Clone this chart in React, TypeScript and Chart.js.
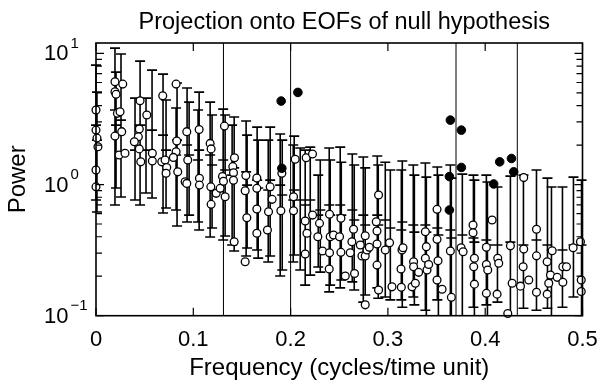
import { useEffect, useRef } from "react";
import { Chart, registerables } from "chart.js";

Chart.register(...registerables);

const FONT = '"Liberation Sans", Arial, Helvetica, sans-serif';

// Open circles: projected power at each frequency
const nullFreq = [
  0, 0, 0.001, 0.002, 0, 0, 0.0195, 0.0195, 0.0206, 0.022, 0.0247, 0.0264, 0.0195, 0.0275, 0.0237, 0.0298,
  0.0453, 0.0522, 0.0445, 0.0435, 0.0394, 0.0445, 0.046, 0.0579, 0.0579, 0.0686, 0.0676, 0.071, 0.0727, 0.072,
  0.0823, 0.083, 0.0823, 0.0795, 0.084, 0.0933, 0.0943, 0.106, 0.1063, 0.1173, 0.1183, 0.132, 0.13, 0.1423,
  0.1406, 0.1413, 0.154, 0.1653, 0.0916, 0.0933, 0.1063, 0.118, 0.1183, 0.1235, 0.1276, 0.131, 0.1327, 0.1413,
  0.142, 0.1533, 0.155, 0.1533, 0.1653, 0.1653, 0.1653, 0.179, 0.181, 0.1773, 0.1762, 0.191, 0.19, 0.203,
  0.203, 0.215, 0.2168, 0.215, 0.2226, 0.228, 0.2297, 0.2328, 0.24, 0.2407, 0.24, 0.2397, 0.2441, 0.2503,
  0.2517, 0.2517, 0.2562, 0.2613, 0.2647, 0.263, 0.2657, 0.2716, 0.2733, 0.2767, 0.2767, 0.2785, 0.2809, 0.2767,
  0.288, 0.2888, 0.2904, 0.2888, 0.2888, 0.2904, 0.2973, 0.3017, 0.3042, 0.3145, 0.3155, 0.3135, 0.3138, 0.3248,
  0.3264, 0.3264, 0.3282, 0.3316, 0.3385, 0.3395, 0.3385, 0.3402, 0.3419, 0.3505, 0.3505, 0.3515, 0.3505, 0.3557,
  0.3642, 0.3652, 0.3752, 0.3773, 0.3875, 0.3875, 0.3889, 0.3882, 0.3889, 0.4012, 0.4012, 0.4026, 0.4012, 0.4071,
  0.4129, 0.4139, 0.4122, 0.4232, 0.4259, 0.4277, 0.4396, 0.4396, 0.4362, 0.439, 0.4448, 0.4527, 0.4527, 0.4527,
  0.4637, 0.4637, 0.4653, 0.4688, 0.4671, 0.474, 0.4798, 0.4798, 0.4835, 0.4904, 0.4979, 0.4987, 0.4987, 0.2047,
  0.216, 0.2225,
];
const nullPower = [
  3.7, 2.6, 2.26, 1.94, 1.29, 0.96, 6.07, 5.1, 4.87, 3.49, 3.59, 2.53, 2.34, 5.83, 1.68, 1.73,
  4.35, 3.39, 2.65, 2.31, 2.12, 1.87, 1.49, 1.73, 1.51, 4.75, 1.49, 1.54, 1.35, 1.22,
  5.83, 2.15, 1.78, 1.61, 1.25, 2.53, 1.54, 2.63, 1.115, 2.06, 1.87, 2.79, 1.15, 1.6,
  1.37, 1.23, 1.17, 1.12, 1.05, 1.02, 0.99, 0.96, 0.706, 0.857, 0.935, 1.06, 0.807, 1.08,
  0.366, 0.897, 0.558, 0.258, 0.935, 0.651, 0.425, 0.96, 0.771, 0.62, 0.45, 1.22, 0.631, 0.807,
  0.631, 0.527, 0.425, 0.295, 0.585, 0.4, 0.506, 0.311, 0.593, 0.4, 0.302, 0.227, 0.412, 0.4,
  0.553, 0.304, 0.201, 0.302, 0.456, 0.366, 0.21, 0.346, 0.285, 0.285, 0.407, 0.317, 0.332, 0.121,
  0.521, 0.442, 0.832, 0.352, 0.243, 0.157, 0.317, 0.36, 0.166, 0.317, 0.33, 0.227, 0.165, 0.166,
  0.258, 0.236, 0.177, 0.214, 0.437, 0.336, 0.274, 0.223, 0.246, 0.647, 0.382, 0.262, 0.187, 0.159,
  0.311, 0.138, 0.33, 0.307, 0.491, 0.429, 0.274, 0.236, 0.174, 0.332, 0.246, 0.223, 0.148, 0.536,
  0.274, 0.251, 0.146, 0.104, 0.341, 0.177, 1.13, 0.322, 0.168, 0.236, 0.187, 0.456, 0.286, 0.151,
  0.258, 0.146, 0.177, 0.313, 0.204, 0.196, 0.236, 0.18, 0.236, 0.33, 0.366, 0.187, 0.153, 1.56,
  1.6, 1.71,
];

// Filled dots: significant values
const sigFreq = [0.1903, 0.2075, 0.191, 0.3642, 0.3755, 0.3755, 0.3632, 0.3632, 0.4149, 0.427, 0.4293, 0.4087];
const sigPower = [4.33, 5.04, 1.33, 3.1, 2.6, 1.35, 1.15, 0.639, 1.49, 1.58, 1.25, 1.01];

// Null-hypothesis intervals: upper, median and lower bounds
const barFreq = [
  0, 0.001, 0.0195, 0.0206, 0.0257, 0.0453, 0.0401, 0.0514, 0.0576, 0.0689, 0.072, 0.0833, 0.0823, 0.0936,
  0.0957, 0.106, 0.1049, 0.1173, 0.1193, 0.1307, 0.1327, 0.142, 0.1399, 0.1543, 0.1553, 0.1656, 0.1667, 0.179,
  0.177, 0.1893, 0.1914, 0.2037, 0.2027, 0.2099, 0.215, 0.2202, 0.2284, 0.2305, 0.2397, 0.2407, 0.251, 0.2521,
  0.2634, 0.2654, 0.2747, 0.2767, 0.2891, 0.2901, 0.2973, 0.3025, 0.3148, 0.3138, 0.3261, 0.3272, 0.3385, 0.3395,
  0.3508, 0.3519, 0.3642, 0.3652, 0.3765, 0.3879, 0.3889, 0.4012, 0.4023, 0.4126, 0.4259, 0.4393, 0.4527, 0.464,
  0.4681, 0.4794, 0.4907, 0.499,
];
const barHigh = [
  8.14, 5.07, 10.97, 7.2, 9.88, 8.73, 4.56, 4.56, 7.46, 6.95, 4.41, 5.94, 3.83, 5.44,
  4.25, 5.07, 3.7, 4.25, 3.39, 3.76, 3.39, 3.27, 2.84, 3.05, 2.38, 2.74, 2.18, 2.74,
  2.18, 2.43, 2.18, 2.34, 2.0, 1.9, 1.83, 1.93, 1.18, 1.54, 1.9, 1.54, 1.93, 1.48,
  1.71, 1.41, 1.62, 1.34, 1.65, 1.41, 1.48, 1.29, 1.51, 1.29, 1.41, 1.18, 1.46, 1.14,
  1.36, 1.18, 1.41, 1.12, 1.2, 1.18, 1.08, 1.18, 1.045, 0.957, 1.16, 1.18, 1.29, 1.12,
  0.957, 0.957, 1.14, 1.08,
];
const barMid = [
  2.84, 2.18, 3.7, 2.84, 3.1, 2.84, 1.83, 1.83, 2.6, 2.38, 1.83, 2.18, 1.68, 2.0,
  1.68, 1.83, 1.54, 1.68, 1.41, 1.54, 1.29, 1.34, 1.18, 1.25, 0.99, 1.08, 0.94, 1.08,
  0.908, 0.99, 0.832, 0.908, 0.762, 0.762, 0.698, 0.762, 0.585, 0.639, 0.698, 0.585, 0.698, 0.585,
  0.639, 0.536, 0.585, 0.491, 0.585, 0.491, 0.536, 0.466, 0.518, 0.45, 0.491, 0.434, 0.491, 0.434,
  0.466, 0.412, 0.45, 0.391, 0.412, 0.391, 0.364, 0.378, 0.346, 0.346, 0.364, 0.346, 0.378, 0.346,
  0.317, 0.317, 0.346, 0.346,
];
const barLow = [
  0.762, 0.617, 0.698, 0.94, 0.803, 0.698, 0.762, 0.861, 0.789, 0.606, 0.662, 0.483, 0.639, 0.518,
  0.585, 0.45, 0.518, 0.398, 0.466, 0.378, 0.405, 0.311, 0.346, 0.285, 0.328, 0.317, 0.275, 0.285,
  0.257, 0.201, 0.223, 0.29, 0.257, 0.223, 0.171, 0.204, 0.235, 0.215, 0.152, 0.171, 0.163, 0.187,
  0.181, 0.157, 0.127, 0.144, 0.163, 0.136, 0.139, 0.132, 0.116, 0.132, 0.139, 0.121, 0.11, 0.09,
  0.132, 0.09, 0.09, 0.09, 0.09, 0.116, 0.09, 0.121, 0.09, 0.127, 0.09, 0.114, 0.11, 0.114,
  0.09, 0.116, 0.139, 0.09,
];

// Vertical marker lines
const markerFreq = [0.131, 0.2, 0.37, 0.433];

// Axes
const xMin = 0;
const xMax = 0.5;
const yMin = 0.1;
const yMax = 12;
const xTickValues = [0, 0.1, 0.2, 0.3, 0.4, 0.5];
const xTickLabels = ["0", "0.1", "0.2", "0.3", "0.4", "0.5"];
const yTickValues = [10, 1, 0.1];
const yTickExponents = ["1", "0", "\u22121"];
const yMinorTicks = [0.2, 0.3, 0.4, 0.5, 0.6, 0.7, 0.8, 0.9, 2, 3, 4, 5, 6, 7, 8, 9];

const titleText = "Projection onto EOFs of null hypothesis";
const xTitle = "Frequency (cycles/time unit)";
const yTitle = "Power";

const matlabPlugin = {
  id: "matlabAxes",
  beforeDatasetsDraw(chart: any) {
    const { ctx, chartArea: a, scales } = chart;
    const x = scales.x;
    const y = scales.y;
    ctx.save();
    ctx.strokeStyle = "#000";
    ctx.lineWidth = 1;
    for (const f of markerFreq) {
      const px = x.getPixelForValue(f);
      ctx.beginPath();
      ctx.moveTo(px, a.top);
      ctx.lineTo(px, a.bottom);
      ctx.stroke();
    }
    ctx.beginPath();
    ctx.rect(a.left - 8, a.top, a.right - a.left + 16, a.bottom - a.top);
    ctx.clip();
    ctx.lineWidth = 1.6;
    const hw = 5;
    ctx.beginPath();
    for (let i = 0; i < barFreq.length; i++) {
      const px = x.getPixelForValue(barFreq[i]);
      const yh = y.getPixelForValue(barHigh[i]);
      const ym = y.getPixelForValue(barMid[i]);
      const yl = y.getPixelForValue(barLow[i]);
      ctx.moveTo(px, yh);
      ctx.lineTo(px, yl);
      ctx.moveTo(px - hw, yh);
      ctx.lineTo(px + hw, yh);
      ctx.moveTo(px - hw, ym);
      ctx.lineTo(px + hw, ym);
      ctx.moveTo(px - hw, yl);
      ctx.lineTo(px + hw, yl);
    }
    ctx.stroke();
    ctx.restore();
  },
  afterDraw(chart: any) {
    const { ctx, chartArea: a, scales } = chart;
    const x = scales.x;
    const y = scales.y;
    ctx.save();
    ctx.strokeStyle = "#000";
    ctx.fillStyle = "#000";
    ctx.lineWidth = 1.6;
    ctx.strokeRect(a.left, a.top, a.right - a.left, a.bottom - a.top);
    ctx.lineWidth = 1.2;
    ctx.beginPath();
    for (const v of xTickValues) {
      const px = x.getPixelForValue(v);
      ctx.moveTo(px, a.bottom);
      ctx.lineTo(px, a.bottom - 8);
      ctx.moveTo(px, a.top);
      ctx.lineTo(px, a.top + 8);
    }
    for (const v of yTickValues) {
      const py = y.getPixelForValue(v);
      ctx.moveTo(a.left, py);
      ctx.lineTo(a.left + 8, py);
      ctx.moveTo(a.right, py);
      ctx.lineTo(a.right - 8, py);
    }
    for (const v of yMinorTicks) {
      const py = y.getPixelForValue(v);
      ctx.moveTo(a.left, py);
      ctx.lineTo(a.left + 6, py);
      ctx.moveTo(a.right, py);
      ctx.lineTo(a.right - 6, py);
    }
    ctx.stroke();

    // x tick labels
    ctx.font = `22px ${FONT}`;
    ctx.textAlign = "center";
    ctx.textBaseline = "alphabetic";
    xTickValues.forEach((v, i) => {
      ctx.fillText(xTickLabels[i], x.getPixelForValue(v), a.bottom + 30.5);
    });

    // y tick labels 10^n
    ctx.textAlign = "left";
    yTickValues.forEach((v, i) => {
      const py = y.getPixelForValue(v);
      ctx.font = `22px ${FONT}`;
      ctx.textBaseline = "middle";
      ctx.fillText("10", 44, py + 1);
      const w = ctx.measureText("10").width;
      ctx.font = `15px ${FONT}`;
      ctx.fillText(yTickExponents[i], 44 + w + 2, py - 10);
    });

    // titles
    ctx.textAlign = "center";
    ctx.textBaseline = "alphabetic";
    const cx = (a.left + a.right) / 2;
    ctx.font = `23.5px ${FONT}`;
    ctx.fillText(titleText, cx + 5, 28.5);
    ctx.font = `24px ${FONT}`;
    ctx.fillText(xTitle, cx, 375);
    ctx.save();
    ctx.translate(25, (a.top + a.bottom) / 2);
    ctx.rotate(-Math.PI / 2);
    ctx.fillText(yTitle, 0, 0);
    ctx.restore();
    ctx.restore();
  },
};

export default function App() {
  const canvasRef = useRef<HTMLCanvasElement | null>(null);

  useEffect(() => {
    const canvas = canvasRef.current;
    if (!canvas) return;
    const chart = new Chart(canvas, {
      type: "scatter",
      data: {
        datasets: [
          {
            label: "null",
            data: nullFreq.map((f, i) => ({ x: f, y: nullPower[i] })),
            pointStyle: "circle",
            pointRadius: 3.9,
            pointBackgroundColor: "#ffffff",
            pointBorderColor: "#000000",
            pointBorderWidth: 1.3,
            clip: false as any,
            order: 2,
          },
          {
            label: "significant",
            data: sigFreq.map((f, i) => ({ x: f, y: sigPower[i] })),
            pointStyle: "circle",
            pointRadius: 4.3,
            pointBackgroundColor: "#000000",
            pointBorderColor: "#000000",
            pointBorderWidth: 1,
            clip: false as any,
            order: 1,
          },
        ],
      },
      options: {
        animation: false,
        responsive: false,
        devicePixelRatio: 1,
        layout: { padding: { left: 96, right: 15.5, top: 43, bottom: 65.3 } },
        plugins: {
          legend: { display: false },
          tooltip: { enabled: false },
          title: { display: false },
        },
        events: [],
        scales: {
          x: { type: "linear", min: xMin, max: xMax, display: false },
          y: { type: "logarithmic", min: yMin, max: yMax, display: false },
        },
      },
      plugins: [matlabPlugin],
    });
    return () => chart.destroy();
  }, []);

  return (
    <div style={{ position: "fixed", left: 0, top: 0, width: 598, height: 381, background: "#fff" }}>
      <canvas ref={canvasRef} width={598} height={381} style={{ display: "block", width: 598, height: 381 }} />
    </div>
  );
}
